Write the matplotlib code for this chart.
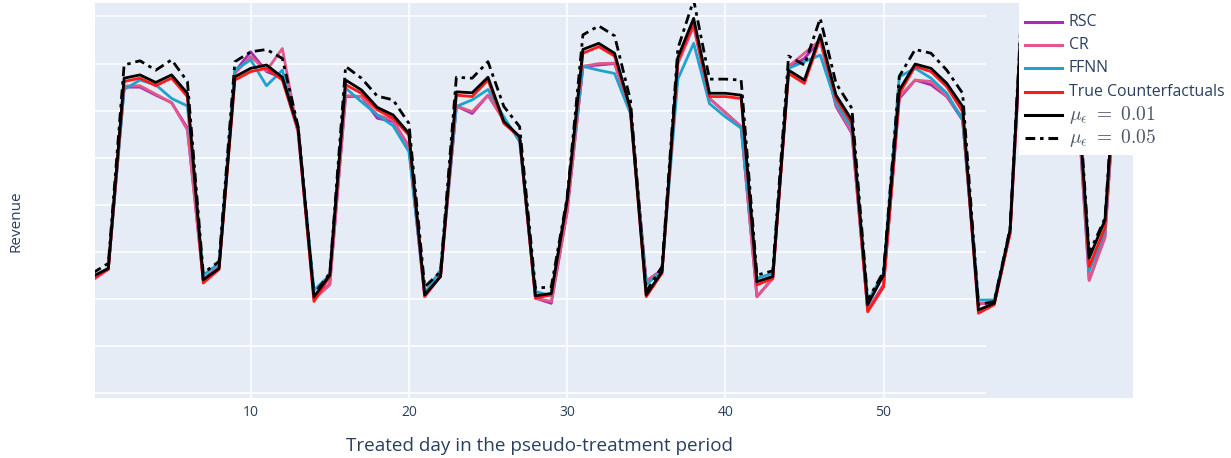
import matplotlib
matplotlib.use("Agg")
import matplotlib.pyplot as plt
from matplotlib.patches import Rectangle
from matplotlib.lines import Line2D

plt.rcParams['font.family'] = ['Open Sans', 'DejaVu Sans']
plt.rcParams['mathtext.fontset'] = 'cm'
plt.rcParams['lines.scale_dashes'] = False

text_color = '#2a3f5f'
bg_color = '#E5ECF6'
W, H = 1231, 458

# days of the pseudo-treatment period
days = list(range(66))

# revenue per series (arbitrary units)
true_cf = [2.43, 2.63, 6.62, 6.69, 6.53, 6.69, 6.30, 2.34, 2.63, 6.65,
           6.83, 6.90, 6.65, 5.59, 1.95, 2.48, 6.55, 6.37, 6.02, 5.84,
           5.48, 2.07, 2.48, 6.33, 6.30, 6.65, 5.73, 5.44, 2.02, 2.09,
           4.05, 7.22, 7.36, 7.16, 6.02, 2.05, 2.55, 7.05, 7.86, 6.30,
           6.30, 6.26, 2.30, 2.44, 6.79, 6.58, 7.54, 6.26, 5.73, 1.73,
           2.26, 6.36, 6.94, 6.83, 6.51, 5.98, 1.70, 1.88, 3.40, 9.60,
           9.20, 8.80, 7.70, 2.69, 3.52, 8.40]
mu_001 = [2.48, 2.65, 6.69, 6.76, 6.60, 6.76, 6.37, 2.41, 2.65, 6.72,
          6.90, 6.97, 6.71, 5.63, 2.05, 2.51, 6.65, 6.44, 6.07, 5.91,
          5.52, 2.09, 2.48, 6.40, 6.38, 6.71, 5.77, 5.45, 2.07, 2.12,
          4.10, 7.30, 7.43, 7.22, 6.05, 2.09, 2.58, 7.13, 7.96, 6.37,
          6.37, 6.33, 2.37, 2.48, 6.86, 6.65, 7.61, 6.33, 5.80, 1.88,
          2.51, 6.44, 6.99, 6.90, 6.58, 6.09, 1.77, 1.91, 3.47, 9.70,
          9.30, 8.90, 7.80, 2.87, 3.68, 8.50]
mu_005 = [2.55, 2.76, 6.97, 7.06, 6.86, 7.08, 6.62, 2.55, 2.80, 7.04,
          7.25, 7.30, 7.11, 5.66, 2.10, 2.55, 6.94, 6.69, 6.31, 6.23,
          5.73, 2.26, 2.58, 6.71, 6.69, 7.04, 6.09, 5.66, 2.23, 2.26,
          4.15, 7.61, 7.80, 7.59, 6.23, 2.16, 2.69, 7.32, 8.35, 6.67,
          6.67, 6.65, 2.51, 2.60, 7.16, 6.97, 7.96, 6.58, 6.05, 1.98,
          2.58, 6.73, 7.30, 7.22, 6.86, 6.37, 1.88, 1.95, 3.50, 9.90,
          9.50, 9.10, 8.00, 2.97, 3.72, 8.70]
rsc = [2.40, 2.64, 6.50, 6.50, 6.33, 6.17, 5.63, 2.42, 2.69, 6.83,
       7.25, 6.83, 6.70, 5.55, 2.00, 2.32, 6.30, 6.30, 5.84, 5.77,
       5.24, 2.05, 2.50, 6.10, 5.94, 6.33, 5.80, 5.41, 2.02, 1.91,
       3.85, 6.94, 6.97, 7.00, 6.02, 2.38, 2.62, 7.01, 7.80, 6.26,
       5.96, 5.66, 2.05, 2.44, 6.90, 7.11, 7.50, 6.09, 5.52, 1.77,
       2.30, 6.26, 6.65, 6.55, 6.30, 5.80, 1.91, 1.91, 3.40, 9.50,
       9.10, 8.70, 7.60, 2.40, 3.35, 8.30]
cr = [2.40, 2.64, 6.52, 6.53, 6.35, 6.17, 5.59, 2.40, 2.69, 6.79,
      7.15, 6.85, 7.32, 5.52, 2.00, 2.30, 6.32, 6.30, 5.91, 5.80,
      5.24, 2.05, 2.50, 6.10, 5.98, 6.33, 5.80, 5.41, 2.02, 1.95,
      3.85, 6.94, 7.00, 7.01, 6.02, 2.38, 2.62, 7.01, 7.80, 6.26,
      5.96, 5.66, 2.05, 2.44, 6.94, 7.22, 7.50, 6.12, 5.55, 1.77,
      2.26, 6.30, 6.65, 6.62, 6.30, 5.85, 1.91, 1.91, 3.40, 9.50,
      9.10, 8.70, 7.60, 2.40, 3.30, 8.30]
ffnn = [2.45, 2.66, 6.45, 6.65, 6.55, 6.26, 6.10, 2.51, 2.76, 6.86,
        7.08, 6.53, 6.86, 5.59, 2.19, 2.51, 6.48, 6.19, 5.91, 5.68,
        5.13, 2.12, 2.62, 6.09, 6.23, 6.45, 5.87, 5.34, 2.16, 2.07,
        4.10, 6.94, 6.86, 6.79, 5.94, 2.30, 2.62, 6.67, 7.43, 6.15,
        5.87, 5.63, 2.44, 2.55, 6.90, 7.04, 7.18, 6.16, 5.63, 1.95,
        2.55, 6.72, 6.90, 6.69, 6.37, 5.80, 1.98, 1.98, 3.45, 9.50,
        9.10, 8.70, 7.60, 2.60, 3.45, 8.30]

dashdot = (7, 3.5, 2.5, 3.5)
series = [
    ('RSC', rsc, '#A62DB0', None),
    ('CR', cr, '#E2578C', None),
    ('FFNN', ffnn, '#1FA2CD', None),
    ('True Counterfactuals', true_cf, '#FF1A1A', None),
    (r'$\mu_\epsilon\ =\ 0.01$', mu_001, 'black', None),
    (r'$\mu_\epsilon\ =\ 0.05$', mu_005, 'black', dashdot),
]

fig = plt.figure(figsize=(W / 100, H / 100), dpi=100)
ax = fig.add_axes([94.7 / W, 60 / H, 1038.3 / W, 394.7 / H])
ax.set_facecolor(bg_color)
for s in ax.spines.values():
    s.set_visible(False)
ax.set_xlim(0.14, 65.77)
ax.set_ylim(-0.1, 8.28)

# grid (horizontal lines stop short, like the original)
ax.hlines(range(9), 0.14, 56.5, color='white', lw=1.1, zorder=1)
ax.vlines([10, 20, 30, 40, 50], -0.1, 8.28, color='white', lw=1.1, zorder=1)

for i, (name, vals, col, dash) in enumerate(series):
    kw = {'dashes': dash} if dash else {}
    ax.plot(days, vals, color=col, lw=2.0, zorder=2 + (i >= 4), **kw)

ax.set_xticks([10, 20, 30, 40, 50])
ax.set_yticks([])
ax.tick_params(axis='x', length=0, pad=5, labelsize=10, labelcolor=text_color)

fig.text(540 / W, 1 - 446 / H, 'Treated day in the pseudo-treatment period',
         ha='center', va='center', fontsize=13.6, color=text_color)
fig.text(16 / W, 1 - 221 / H, 'Revenue', rotation=90,
         ha='center', va='center', fontsize=11, color=text_color)

# white legend box over the top right corner
fig.patches.append(Rectangle((1019 / W, 1 - 155 / H), 212 / W, 155 / H,
                             transform=fig.transFigure, facecolor='white',
                             edgecolor='none', zorder=4))
for i, (name, vals, col, dash) in enumerate(series):
    yy = 1 - (22 + 23.2 * i) / H
    kw = {'dashes': dash} if dash else {}
    fig.lines.append(Line2D([1025 / W, 1062 / W], [yy, yy], color=col, lw=2.2,
                            transform=fig.transFigure, zorder=5, **kw))
    is_math = name.startswith('$')
    fig.text(1069 / W, yy, name, ha='left', va='center', zorder=6,
             fontsize=14 if is_math else 11.4,
             color='#4d5566' if is_math else text_color)

fig.savefig('out.png', dpi=100, facecolor='white')
